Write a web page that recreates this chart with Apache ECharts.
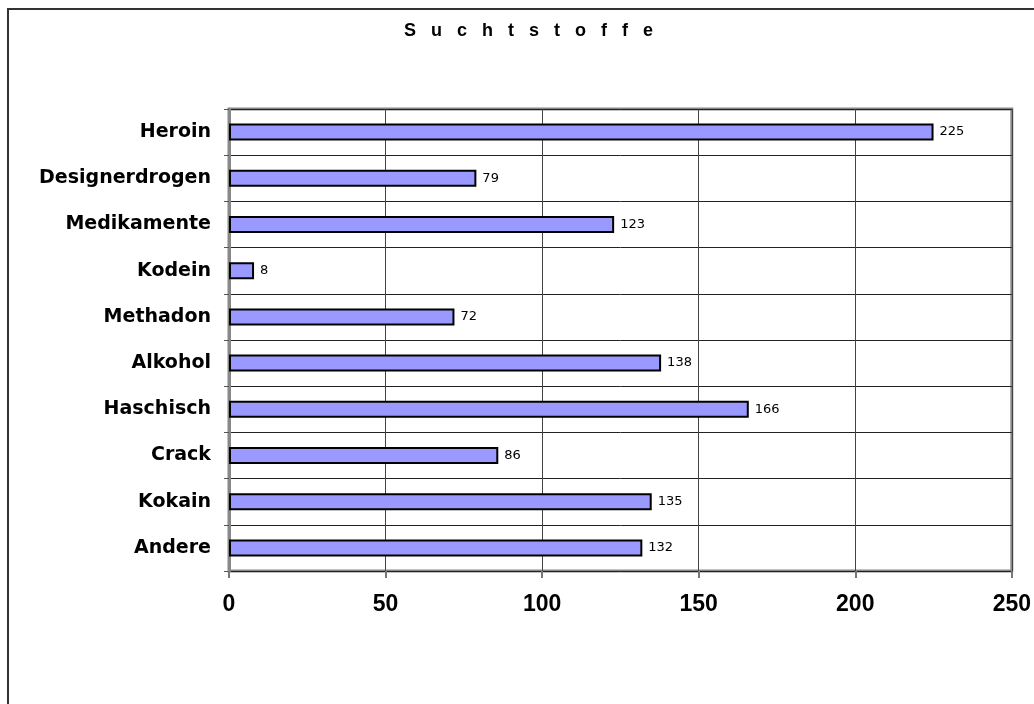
<!DOCTYPE html>
<html>
<head>
<meta charset="utf-8">
<script src="https://cdn.jsdelivr.net/npm/echarts@6/dist/echarts.min.js"></script>
<style>
  html, body { margin: 0; padding: 0; background: #fff; }
  #chart { width: 1034px; height: 704px; }
</style>
</head>
<body>
<div id="chart"></div>
<script>
const categories = ['Heroin', 'Designerdrogen', 'Medikamente', 'Kodein', 'Methadon', 'Alkohol', 'Haschisch', 'Crack', 'Kokain', 'Andere']
const values = [225, 79, 123, 8, 72, 138, 166, 86, 135, 132]
const xTicks = [0, 50, 100, 150, 200, 250]

const chart = echarts.init(document.getElementById('chart'))

const option = {
  animation: false,
  backgroundColor: '#fff',
  title: {
    text: 'S   u   c   h   t   s   t   o   f   f   e',
    left: 399,
    top: 17,
    textStyle: {
      fontFamily: 'Liberation Sans',
      fontWeight: 'bold',
      fontSize: 18,
      color: '#000'
    }
  },
  graphic: [
    {
      type: 'rect',
      shape: { x: 8, y: 9, width: 1100, height: 800 },
      style: { fill: 'none', stroke: '#333', lineWidth: 2 },
      silent: true
    }
  ],
  grid: {
    left: 229,
    right: 22,
    top: 109,
    bottom: 133,
    show: true,
    borderColor: '#888',
    borderWidth: 3
  },
  xAxis: {
    type: 'value',
    min: xTicks[0],
    max: xTicks[xTicks.length - 1],
    interval: 50,
    axisLine: { show: false },
    axisTick: { show: true, length: 7, lineStyle: { color: '#777', width: 2 } },
    axisLabel: {
      margin: 22,
      fontFamily: 'Liberation Sans',
      fontWeight: 'bold',
      fontSize: 23,
      color: '#000'
    },
    splitLine: { show: true, lineStyle: { color: '#444', width: 1 } }
  },
  yAxis: {
    type: 'category',
    data: categories,
    inverse: true,
    axisLine: { show: true, lineStyle: { color: '#888', width: 3 } },
    axisTick: { show: true, length: 5, lineStyle: { color: '#555', width: 1 } },
    axisLabel: {
      margin: 18,
      fontFamily: 'DejaVu Sans',
      fontWeight: 'bold',
      fontSize: 19,
      color: '#000'
    },
    splitLine: { show: true, lineStyle: { color: '#222', width: 1 } }
  },
  series: [
    {
      type: 'bar',
      data: values,
      barWidth: 17,
      itemStyle: {
        color: '#9999FF',
        borderColor: '#000',
        borderWidth: 2
      },
      label: {
        show: true,
        position: 'right',
        distance: 6,
        fontFamily: 'DejaVu Sans',
        fontSize: 13,
        color: '#000'
      }
    }
  ]
}

chart.setOption(option)
</script>
</body>
</html>
